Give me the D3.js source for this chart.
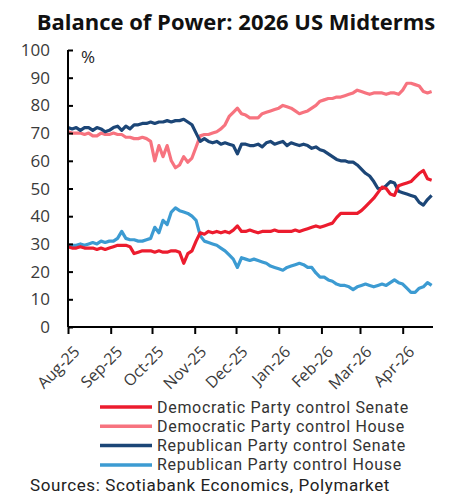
<!DOCTYPE html>
<meta charset="utf-8">
<script src="https://d3js.org/d3.v7.min.js"></script>
<style>
  body { margin: 0; background: #fff; }
  text { font-family: "Open Sans", sans-serif; }
  .legend text, .source { font-family: Roboto, sans-serif; }
</style>
<div id="chart"></div>
<script>
  // sampled every 3 days from Aug 1 2025
  var startDate = new Date(2025, 7, 1), stepDays = 3;

  var demSenate = [29,28.5,28.5,29,28.5,28.5,28.5,28,28.5,28,28.5,29,29.5,29.5,29.5,29,26.5,27,27.5,27.5,
    27.5,27,27.5,27,27,27.5,27.5,27,23,26.5,27.5,31,34,33.5,34.5,34,34.5,34,34.5,34,
    35,36.5,34.5,34.5,35,34.5,34,34.5,34.5,34.5,35,34.5,34.5,34.5,34.5,35,34.5,35,35.5,36,
    36.5,36,36.5,37,37.5,39.5,41,41,41,41,41,42,43.5,45,46.5,48.5,50.5,50,48,47.5,
    51,51.5,52,52.5,54,55.5,56.5,53.5,53];
  var demHouse = [70.5,70,70,70,69.5,70,69,69,70,69.5,69.5,70,69.5,69.5,68.5,68.5,68,68,68.5,68,
    67,60,65.5,61.5,65.5,60,57.5,58.5,61.5,59.5,61,65,69,69.5,69.5,70,70.5,71.5,73,76,
    77.5,79,77,76.5,75.5,75.5,75.5,77,77.5,78,78.5,79,80,79.5,79,78,77,77.5,78,79,
    80,81.5,82,82.5,82.5,83,83,83.5,84,84.5,85.5,85,84.5,84,84.5,84.5,84.5,84,84.5,84.5,
    84,85.5,88,88,87.5,87,85,84.5,85];
  var repSenate = [72,71.5,72,71,72,72,71,72,71.5,70.5,71,72,72.5,71,72.5,71.5,73,73,73.5,73.5,
    74,73.5,74,74,74.5,74,74.5,74.5,75,74,73,70,67,68,67,66.5,67,66,66.5,66,
    65.5,62.5,66,66,65.5,65.5,66,65,66.5,67,66,66.5,67,65.5,66.5,66,65.5,66,65.5,64.5,
    65,64,63.5,62.5,61.5,60.5,60,60,59.5,59.5,58.5,57,55.5,54.5,52.5,50,50,51,52.5,52,
    49,48.5,48,47.5,47,45,44,46,47.5];
  var repHouse = [29.5,29.5,29.5,30,29.5,30,30.5,30,31,30.5,31,31,32,34.5,32,31.5,31.5,31,31,31.5,
    32,36,34,38.5,37,41.5,43,42,41.5,41,40,38.5,33,31,30.5,30,29.5,28.5,27.5,26,
    24.5,21.5,25,24.5,24,24.5,24,23.5,23,22,21.5,21,20.5,21.5,22,22.5,23,22.5,21.5,21.5,
    19.5,18,18,17,16.5,15.5,15,15,14.5,13.5,14.5,15,15.5,15,14.5,15,15.5,15,16,17,
    16,15.5,14,12.5,12.5,14,14.5,16,15];

  var seriesNames = ["Democratic Party control Senate", "Democratic Party control House",
    "Republican Party control Senate", "Republican Party control House"];
  var seriesColors = ["#ec1c2e", "#f7737f", "#1c4677", "#3c9bd2"];
  var tickMonths = ["Aug-25","Sep-25","Oct-25","Nov-25","Dec-25","Jan-26","Feb-26","Mar-26","Apr-26"];
  var yTicks = [0,10,20,30,40,50,60,70,80,90,100];

  var dates = demSenate.map(function(d, i){ return d3.timeDay.offset(startDate, i * stepDays); });
  var allSeries = [demSenate, demHouse, repSenate, repHouse];

  var W = 458, H = 497;
  var svg = d3.select("#chart").append("svg")
    .attr("width", W).attr("height", H);

  svg.append("text")
    .attr("x", 236).attr("y", 30)
    .attr("text-anchor", "middle")
    .style("font-size", "22px").style("font-weight", 700)
    .attr("fill", "#111")
    .text("Balance of Power: 2026 US Midterms");

  var x = d3.scaleTime()
    .domain([startDate, new Date(2026, 3, 23)])
    .range([68, 433]);
  var y = d3.scaleLinear()
    .domain([0, 100])
    .range([327, 50]);

  // lines
  var line = d3.line()
    .x(function(d, i){ return x(dates[i]); })
    .y(function(d){ return y(d); });
  var drawOrder = [1, 3, 2, 0];
  drawOrder.forEach(function(k){
    svg.append("path")
      .datum(allSeries[k])
      .attr("fill", "none")
      .attr("stroke", seriesColors[k])
      .attr("stroke-width", 3.2)
      .attr("stroke-linejoin", "round")
      .attr("d", line);
  });

  // y axis
  var yAxis = svg.append("g")
    .attr("transform", "translate(68,0)")
    .call(d3.axisRight(y).tickValues(yTicks).tickSize(5).tickFormat(""));
  yAxis.select(".domain").attr("d", "M0,50V327").attr("stroke", "#000").attr("stroke-width", 2);
  yAxis.selectAll(".tick line").attr("stroke", "#000").attr("stroke-width", 2);
  svg.append("g").selectAll("text")
    .data(yTicks).enter().append("text")
    .attr("x", 50).attr("y", function(d){ return y(d) + 6; })
    .attr("text-anchor", "end")
    .style("font-size", "17px")
    .attr("fill", "#3a3a3a")
    .text(function(d){ return d; });
  svg.append("text")
    .attr("x", 81).attr("y", 63)
    .style("font-size", "17px").attr("fill", "#222")
    .text("%");

  // x axis
  var monthDates = tickMonths.map(function(m){ return d3.timeParse("%b-%y")(m); });
  var xAxis = svg.append("g")
    .attr("transform", "translate(0,327)")
    .call(d3.axisBottom(x).tickValues(monthDates).tickSize(7).tickFormat(""));
  xAxis.select(".domain").attr("d", "M68,0H433").attr("stroke", "#000").attr("stroke-width", 2);
  xAxis.selectAll(".tick line").attr("stroke", "#000").attr("stroke-width", 2);
  svg.append("g").selectAll("text")
    .data(tickMonths).enter().append("text")
    .attr("transform", function(d, i){
      return "translate(" + (x(monthDates[i]) + 6) + ",346) rotate(-45)";
    })
    .attr("text-anchor", "end")
    .attr("dy", "0.6em")
    .style("font-size", "16px")
    .attr("fill", "#3a3a3a")
    .text(function(d){ return d; });

  // legend
  var legend = svg.append("g").attr("class", "legend");
  seriesNames.forEach(function(name, k){
    var ly = 407 + k * 19.3;
    legend.append("line")
      .attr("x1", 100).attr("x2", 152)
      .attr("y1", ly).attr("y2", ly)
      .attr("stroke", seriesColors[k]).attr("stroke-width", 3.5);
    legend.append("text")
      .attr("x", 157).attr("y", ly + 5.5)
      .style("font-size", "16px")
      .style("letter-spacing", "0.7px")
      .attr("fill", "#333")
      .text(name);
  });

  svg.append("text")
    .attr("class", "source")
    .attr("x", 30).attr("y", 491)
    .style("font-size", "17px")
    .style("letter-spacing", "0.6px")
    .attr("fill", "#222")
    .text("Sources: Scotiabank Economics, Polymarket");
</script>
